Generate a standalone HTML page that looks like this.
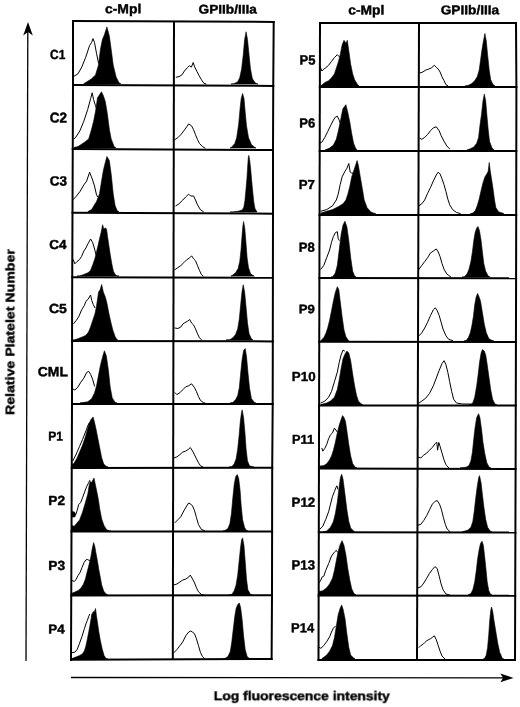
<!DOCTYPE html>
<html><head><meta charset="utf-8"><title>Figure</title><style>
html,body{margin:0;padding:0;background:#fff;width:520px;height:707px;overflow:hidden}
svg{display:block}
text{font-family:"Liberation Sans",sans-serif;font-weight:bold;font-size:14px;fill:#000;stroke:#000;stroke-width:0.45px;stroke-linejoin:round;text-rendering:geometricPrecision}
</style></head><body>
<svg width="520" height="707" viewBox="0 0 520 707">
<g stroke="#000" stroke-width="2.0" stroke-linecap="butt"><line x1="72.00" y1="21.00" x2="274.70" y2="21.90"/><line x1="72.00" y1="84.90" x2="274.25" y2="85.90"/><line x1="71.74" y1="149.00" x2="274.00" y2="150.00"/><line x1="71.49" y1="212.80" x2="274.00" y2="213.70"/><line x1="71.23" y1="277.20" x2="273.90" y2="277.70"/><line x1="71.07" y1="341.00" x2="273.80" y2="341.40"/><line x1="71.00" y1="404.00" x2="273.70" y2="404.10"/><line x1="70.75" y1="468.00" x2="273.20" y2="467.70"/><line x1="70.50" y1="531.50" x2="273.10" y2="531.60"/><line x1="70.25" y1="595.50" x2="273.00" y2="595.20"/><line x1="70.00" y1="659.70" x2="272.60" y2="659.00"/><polyline fill="none" points="73.00,20.00 73.00,85.00 72.10,310.00 72.00,404.00 71.00,661.00"/><polyline fill="none" points="174.00,21.50 172.80,659.30"/><polyline fill="none" points="273.70,20.90 273.25,85.00 273.00,150.00 273.00,213.00 272.90,277.00 272.80,341.00 272.70,404.00 272.20,468.00 272.10,532.00 272.00,595.00 271.60,660.00"/></g>
<g stroke="#000" stroke-width="2.0" stroke-linecap="butt"><line x1="319.00" y1="23.00" x2="517.00" y2="23.00"/><line x1="318.85" y1="87.00" x2="517.40" y2="86.90"/><line x1="318.70" y1="151.00" x2="517.30" y2="151.00"/><line x1="318.55" y1="215.00" x2="517.20" y2="215.00"/><line x1="318.40" y1="278.00" x2="517.10" y2="278.20"/><line x1="318.25" y1="341.70" x2="516.93" y2="341.90"/><line x1="318.10" y1="405.40" x2="516.77" y2="405.60"/><line x1="317.95" y1="468.40" x2="516.60" y2="469.10"/><line x1="317.80" y1="532.20" x2="516.40" y2="532.40"/><line x1="317.65" y1="595.50" x2="516.20" y2="595.70"/><line x1="317.50" y1="660.00" x2="516.00" y2="660.00"/><polyline fill="none" points="320.00,22.00 318.50,661.00"/><polyline fill="none" points="419.00,23.00 417.00,660.00"/><polyline fill="none" points="516.00,22.00 516.40,87.00 516.10,278.00 515.60,469.00 515.00,661.00"/></g>
<g fill="#000" stroke="#000" stroke-width="0.6" stroke-linejoin="round"><polygon points="83.8,84.0 83.8,83.7 91.6,78.8 95.5,74.9 98.5,65.0 100.4,49.4 102.4,39.6 104.4,34.7 106.9,26.9 109.3,35.7 111.2,49.4 113.2,65.0 116.1,76.9 119.0,82.7 121.0,84.0 121.0,84.0"/><polygon points="74.0,148.0 74.0,147.5 78.0,146.5 83.8,142.8 88.7,138.9 91.6,129.1 93.6,121.3 95.5,111.5 97.5,97.7 99.5,94.8 101.4,91.8 103.4,95.8 105.3,101.6 107.3,113.4 109.3,129.1 111.2,138.9 114.2,146.7 116.0,148.0 116.0,148.0"/><polygon points="88.0,212.0 88.0,211.5 91.6,209.5 96.5,201.6 99.5,193.8 101.4,182.0 103.4,170.3 105.3,162.4 106.9,156.5 109.3,160.5 111.2,174.2 113.2,193.8 115.1,205.6 117.1,210.5 119.0,212.0 119.0,212.0"/><polygon points="77.0,276.0 77.0,276.0 79.5,276.0 83.8,274.4 88.0,272.8 90.6,270.2 92.7,264.9 94.9,258.5 96.4,252.2 98.0,245.8 99.6,238.4 101.2,232.1 102.6,224.7 103.8,228.9 105.4,227.9 106.5,228.9 107.5,236.3 108.6,243.7 110.2,254.3 111.8,263.8 113.4,271.2 115.5,274.9 117.6,276.0 119.0,276.0 119.0,276.0"/><polygon points="73.0,340.0 73.0,340.0 74.2,340.0 78.5,338.4 82.7,336.8 85.9,335.2 88.5,332.1 90.6,326.8 92.7,320.4 94.9,314.1 96.4,306.7 97.5,299.3 98.6,291.9 100.1,289.8 101.7,284.5 103.3,291.9 105.4,297.2 107.0,303.5 108.6,312.0 110.7,321.5 112.8,330.0 115.0,336.3 117.1,340.0 118.0,340.0 118.0,340.0"/><polygon points="80.0,403.0 80.0,403.0 87.7,401.8 91.6,398.8 94.5,392.9 96.5,386.1 98.5,375.3 100.4,365.5 102.4,357.6 104.4,350.8 106.3,355.7 108.3,369.4 110.2,387.1 112.2,397.8 115.1,402.4 117.0,403.0 117.0,403.0"/><polygon points="72.0,467.0 72.0,464.5 73.8,463.6 76.7,458.8 79.6,452.1 82.5,445.3 85.4,436.7 87.8,428.0 89.2,423.2 90.7,419.9 93.1,417.0 94.5,422.3 96.0,429.0 97.9,438.6 99.8,448.2 101.7,457.8 103.7,464.1 106.5,466.5 108.0,467.0 108.0,467.0"/><polygon points="72.0,531.0 72.0,525.7 74.3,526.2 76.7,523.3 79.6,519.9 82.5,512.2 85.4,502.6 87.8,494.0 89.2,485.3 90.2,481.5 91.6,482.4 94.0,478.1 95.5,485.3 96.9,492.0 98.4,499.7 99.8,509.3 101.7,519.0 104.1,525.7 106.5,529.5 109.4,531.0 111.0,531.0 111.0,531.0"/><polygon points="72.0,511.5 74.5,512.0 75.8,514.5 74.8,517.0 72.0,517.0"/><polygon points="72.0,595.0 72.0,593.2 72.4,593.0 74.8,592.1 78.7,590.2 81.5,587.3 83.5,583.9 85.4,579.1 86.8,573.3 88.3,567.6 89.7,561.8 91.0,556.0 92.1,549.3 93.6,542.6 94.8,546.4 96.0,553.2 97.4,560.8 98.8,569.5 100.3,577.2 101.7,584.9 103.7,591.1 106.1,594.0 108.0,595.0 108.0,595.0"/><polygon points="72.0,659.0 72.0,658.5 75.8,657.1 79.6,655.6 82.5,653.7 84.4,650.8 85.9,646.0 87.3,639.3 88.8,631.6 90.2,623.9 91.2,618.1 91.6,614.8 93.1,611.9 94.5,611.4 95.5,608.5 96.4,615.2 97.4,622.0 98.8,631.6 100.3,640.2 102.2,648.9 104.1,655.6 106.5,659.0 108.0,659.0 108.0,659.0"/><polygon points="231.0,84.0 231.0,84.0 233.8,83.7 237.7,81.8 239.7,77.8 241.6,69.0 243.2,55.3 244.6,39.6 246.1,31.8 247.5,39.6 249.1,55.3 250.5,69.0 252.4,78.8 255.4,83.1 258.0,84.0 258.0,84.0"/><polygon points="230.0,148.0 230.0,148.0 231.8,147.1 234.8,143.5 236.7,137.6 238.7,123.9 240.1,108.2 241.2,98.4 242.6,93.5 244.0,98.4 245.2,112.2 246.5,125.9 248.5,137.6 251.4,144.5 254.4,147.1 256.0,148.0 256.0,148.0"/><polygon points="230.0,212.0 230.0,212.0 232.7,212.0 238.0,211.3 242.2,209.9 243.8,207.2 244.9,200.9 245.9,190.3 247.0,177.6 247.7,166.0 248.3,157.5 248.8,155.4 249.6,159.6 250.7,169.2 251.7,180.8 252.8,192.4 253.8,201.9 254.9,208.3 257.0,212.0 257.0,212.0"/><polygon points="231.0,276.0 231.0,276.0 232.8,275.1 235.7,272.5 238.1,268.6 239.7,261.7 241.0,250.0 242.0,236.2 242.8,226.4 243.6,221.5 244.8,228.4 245.9,242.1 247.1,257.8 248.5,267.6 250.5,273.5 252.4,275.1 254.0,276.0 254.0,276.0"/><polygon points="226.0,340.0 226.0,340.0 229.9,339.7 232.8,337.8 235.4,334.8 237.7,328.9 239.3,319.1 240.6,305.4 242.0,291.7 243.2,284.8 244.6,291.7 245.9,305.4 247.5,323.1 249.1,333.8 251.4,338.7 253.0,340.0 253.0,340.0"/><polygon points="230.0,403.0 230.0,403.0 232.8,402.5 235.7,399.5 237.7,395.6 239.3,387.8 240.6,374.0 242.0,360.3 243.6,350.5 245.2,348.5 246.5,356.4 247.9,372.1 249.5,387.8 251.4,398.5 254.4,402.5 256.0,403.0 256.0,403.0"/><polygon points="229.0,467.0 229.0,467.0 231.8,466.7 234.2,463.8 236.1,458.9 237.7,449.1 239.1,435.4 240.3,421.6 241.6,411.8 242.2,409.9 243.6,417.7 245.0,433.4 246.1,449.1 247.5,460.9 249.5,465.8 252.4,466.7 254.0,467.0 254.0,467.0"/><polygon points="223.0,531.0 223.0,531.0 225.0,530.5 227.9,528.5 229.9,523.6 231.4,513.8 232.8,498.1 234.2,484.4 235.7,476.5 237.3,474.6 238.7,478.5 240.1,490.3 241.2,506.0 242.6,519.7 244.6,527.5 246.5,530.5 248.0,531.0 248.0,531.0"/><polygon points="229.0,595.0 229.0,595.0 231.8,594.4 234.2,590.8 236.1,584.9 237.7,575.1 239.1,561.4 240.5,547.7 241.6,539.8 242.6,537.9 244.0,545.7 245.2,561.4 246.5,579.1 247.9,589.8 250.5,594.4 252.0,595.0 252.0,595.0"/><polygon points="223.0,659.0 223.0,659.0 225.0,658.5 227.9,656.5 230.3,651.6 231.8,641.8 233.4,628.1 234.8,616.3 236.1,608.5 237.7,604.5 239.3,603.0 240.6,607.5 242.0,618.3 243.6,635.9 245.2,649.6 247.1,656.5 249.5,658.5 251.0,659.0 251.0,659.0"/><polygon points="320.9,86.0 320.9,85.8 324.8,82.6 328.6,80.7 331.5,77.8 334.4,73.9 336.3,68.2 338.2,62.4 340.2,54.7 342.1,45.1 344.0,40.3 345.9,43.2 347.3,40.3 348.8,50.8 350.7,64.3 352.7,73.9 354.6,79.7 357.5,84.5 359.0,86.0 359.0,86.0"/><polygon points="325.0,150.0 325.0,150.0 329.6,148.0 333.4,145.1 336.3,139.3 338.2,131.6 340.2,122.0 341.7,114.3 343.0,108.5 345.9,104.7 347.8,112.4 349.8,122.0 351.7,133.5 353.6,143.2 355.5,148.0 357.0,150.0 357.0,150.0"/><polygon points="320.9,214.0 320.9,213.0 326.7,211.2 332.5,209.6 338.2,206.7 343.0,203.8 345.9,200.0 347.8,194.2 349.8,186.5 351.7,176.9 353.6,171.2 355.5,165.4 357.1,160.6 358.4,165.4 360.3,176.9 362.3,188.5 364.2,200.0 367.1,207.7 370.9,211.9 374.8,213.5 376.0,214.0 376.0,214.0"/><polygon points="331.0,277.0 331.0,277.0 332.5,276.9 335.3,273.1 337.3,265.4 339.2,250.0 341.1,234.6 343.0,225.0 345.0,221.2 346.9,226.9 348.8,240.4 350.7,257.7 352.7,271.2 354.6,276.0 356.0,277.0 356.0,277.0"/><polygon points="321.0,341.0 321.0,340.5 323.8,337.6 325.7,333.8 327.7,328.0 329.6,320.3 331.5,310.7 333.4,301.1 335.3,292.4 337.3,286.7 338.8,289.5 340.2,301.1 342.1,316.5 344.0,329.9 345.9,336.7 347.8,339.5 349.0,341.0 349.0,341.0"/><polygon points="321.0,405.0 321.0,404.5 326.7,403.0 330.5,401.1 334.4,397.2 337.3,389.5 339.2,379.9 341.1,368.4 343.0,358.8 345.0,354.0 346.9,351.1 348.8,353.0 350.7,360.7 352.7,374.2 354.6,385.7 356.5,395.3 358.4,401.1 361.3,404.0 363.0,405.0 363.0,405.0"/><polygon points="320.0,468.0 320.0,466.0 323.8,465.6 326.7,463.7 329.6,459.8 331.5,456.0 333.4,450.2 335.3,442.5 337.3,432.9 339.2,425.2 341.1,419.5 342.5,415.6 344.0,417.5 345.5,421.4 346.9,431.0 348.8,444.5 350.7,456.0 352.7,463.7 355.5,467.5 357.0,468.0 357.0,468.0"/><polygon points="323.0,532.0 323.0,532.0 326.7,531.0 330.5,527.2 333.4,521.4 335.3,513.7 337.3,502.2 339.2,486.8 340.5,477.2 341.7,474.3 343.0,479.1 345.0,494.5 346.9,509.8 348.8,521.4 350.7,528.1 353.6,531.0 355.0,532.0 355.0,532.0"/><polygon points="319.0,595.0 319.0,591.6 322.8,590.7 326.7,587.8 329.6,583.9 332.5,578.2 334.4,570.5 336.3,560.8 338.2,551.2 340.2,544.5 342.1,540.7 344.0,545.5 345.9,555.1 347.8,568.5 349.8,580.1 351.7,588.7 354.0,593.5 356.0,595.0 356.0,595.0"/><polygon points="322.0,659.0 322.0,658.5 326.7,655.1 329.6,651.2 332.5,645.5 334.4,637.8 336.3,626.2 338.2,614.7 340.2,608.0 341.7,605.1 343.0,608.9 345.0,618.5 346.9,633.9 348.8,647.4 350.7,655.1 353.6,658.0 355.0,659.0 355.0,659.0"/><polygon points="465.0,86.0 465.0,86.0 468.0,85.5 471.8,83.5 474.7,80.7 477.2,76.8 479.2,70.1 480.5,60.5 481.8,50.8 483.4,41.2 484.9,33.5 486.3,41.2 487.6,54.7 489.2,70.1 490.7,79.7 493.0,84.5 495.0,86.0 495.0,86.0"/><polygon points="467.0,150.0 467.0,150.0 469.9,148.9 473.8,147.0 476.7,143.2 478.6,137.4 479.9,125.8 481.5,114.3 483.0,100.8 484.3,94.1 485.7,100.8 486.8,114.3 488.2,129.7 489.5,141.2 492.0,148.0 494.0,150.0 494.0,150.0"/><polygon points="470.0,214.0 470.0,214.0 472.8,213.1 475.3,210.6 477.2,205.8 479.2,199.0 481.1,190.4 483.0,182.7 484.9,176.9 486.8,174.0 488.2,171.2 489.2,162.5 490.3,171.2 491.5,178.8 493.0,188.5 494.5,200.0 495.9,207.7 498.8,211.9 502.6,213.1 504.0,214.0 504.0,214.0"/><polygon points="462.0,277.0 462.0,277.0 464.2,276.9 467.0,274.0 469.0,269.2 470.9,261.5 472.4,251.9 473.8,240.4 475.1,232.7 476.7,227.9 478.0,226.5 479.5,230.8 481.1,240.4 482.4,251.9 483.8,263.5 485.7,271.2 488.2,276.0 490.0,277.0 490.0,277.0"/><polygon points="464.0,341.0 464.0,341.0 466.1,340.5 468.4,337.6 470.3,332.8 471.8,326.1 473.4,316.5 474.7,304.9 476.1,297.2 477.6,293.4 479.2,297.2 480.5,301.1 482.4,312.6 484.3,324.2 486.3,332.8 488.8,338.6 492.0,340.5 494.0,341.0 494.0,341.0"/><polygon points="469.0,405.0 469.0,405.0 472.8,403.0 474.7,397.2 476.7,385.7 478.2,374.2 479.5,362.6 481.1,353.0 482.4,349.5 484.3,351.1 485.7,354.9 487.2,364.5 488.8,376.1 490.7,389.5 492.6,399.2 494.9,404.0 497.0,405.0 497.0,405.0"/><polygon points="460.0,468.0 460.0,468.0 466.1,467.2 469.0,465.6 470.9,460.8 472.4,452.2 473.8,438.7 475.1,427.2 476.7,417.5 478.6,413.7 479.9,417.5 481.5,429.1 483.0,442.5 484.9,454.1 486.8,462.7 489.2,467.2 491.0,468.0 491.0,468.0"/><polygon points="462.0,532.0 462.0,532.0 468.0,530.0 470.9,527.2 472.8,521.4 474.2,511.8 475.7,498.3 477.2,486.8 478.6,478.1 479.5,475.6 481.1,482.9 482.4,494.5 484.0,507.9 485.7,519.5 487.6,527.2 490.1,531.0 492.0,532.0 492.0,532.0"/><polygon points="468.0,595.0 468.0,595.0 470.9,593.5 472.8,589.7 474.7,582.0 476.3,570.5 477.6,558.9 479.2,549.3 480.5,543.5 482.0,541.2 483.4,545.5 484.7,557.0 486.1,570.5 487.2,582.0 488.8,590.7 490.7,594.5 492.0,595.0 492.0,595.0"/><polygon points="483.0,659.0 483.0,659.0 484.3,659.0 486.3,655.1 487.6,647.4 488.8,633.9 489.7,620.5 490.7,610.8 491.5,607.0 492.6,610.8 494.0,620.5 495.9,632.0 497.8,643.5 499.7,652.2 502.6,658.9 504.0,659.0 504.0,659.0"/></g>
<g fill="none" stroke="#000" stroke-width="1.0" stroke-linejoin="round" stroke-linecap="round"><polyline points="73.0,76.9 77.9,73.9 81.8,67.0 85.7,57.3 89.6,45.5 91.6,42.5 93.0,38.6 94.5,42.5 96.5,53.3 98.5,63.1"/><polyline points="74.0,138.9 75.9,137.0 79.8,131.0 83.8,121.3 87.7,109.5 90.6,98.7 92.2,92.8 93.6,99.7 95.5,105.6 96.5,108.5"/><polyline points="73.0,199.7 75.9,196.7 79.8,191.8 83.8,185.0 86.7,181.0 89.6,172.2 91.2,176.2 92.6,180.0 94.5,186.0 96.5,194.8 97.5,196.7"/><polyline points="73.2,259.6 74.8,263.8 76.9,261.7 79.5,259.6 81.6,256.4 83.8,251.1 85.9,248.0 88.0,243.7 90.6,239.0 92.7,242.7 94.3,248.0 95.9,254.3"/><polyline points="73.7,323.6 76.3,320.4 79.0,316.2 81.6,309.8 84.3,305.6 85.9,301.4 88.0,299.3 90.6,295.0 91.7,300.3 93.3,304.6 94.9,307.7"/><polyline points="73.0,389.0 74.9,390.0 77.9,387.1 80.8,382.2 83.8,378.2 86.7,372.4 88.7,371.4 90.6,374.3 92.6,379.2 94.5,386.1"/><polyline points="72.9,460.7 75.8,455.0 79.6,446.3 82.5,439.6 85.9,430.9 87.8,425.6 89.2,423.0"/><polyline points="72.0,512.0 74.5,515.5 76.0,514.0 77.2,510.3 78.7,504.5 80.6,502.6 82.5,497.8 84.9,491.1 86.8,486.3 88.8,482.4 89.7,480.5"/><polyline points="72.4,580.6 74.3,581.5 76.2,579.1 78.2,575.3 80.1,572.4 82.0,567.6 83.9,562.8 85.9,559.9 87.3,559.4 89.2,560.4 90.2,561.3"/><polyline points="71.9,652.7 74.8,652.2 77.2,649.4 79.6,643.1 82.0,636.4 84.4,628.7 85.9,623.9 87.3,620.5 88.8,616.2 89.7,614.3"/><polyline points="176.2,77.2 179.0,76.6 181.9,74.9 184.5,70.9 187.4,67.7 189.4,65.7 191.4,67.1 193.2,62.5 194.6,66.8 196.9,71.4 199.2,75.8 201.5,79.8 203.9,83.3 206.0,84.0"/><polyline points="175.0,139.6 177.9,137.6 180.8,134.7 183.8,130.8 186.7,126.9 188.7,123.9 191.6,125.9 193.6,129.8 195.5,134.7 197.5,139.6 199.5,143.5 202.4,146.5 205.0,148.0"/><polyline points="175.9,205.8 178.9,203.9 182.8,200.0 185.7,197.0 188.7,194.1 190.6,196.0 193.6,196.0 195.5,200.0 197.5,204.9 200.5,209.8 203.4,211.7"/><polyline points="175.0,269.6 177.9,267.6 180.8,265.6 183.8,262.7 186.7,259.8 189.7,257.8 191.6,255.8 193.6,258.8 195.5,260.7 197.5,265.6 199.5,270.5 201.4,274.5 203.0,276.0"/><polyline points="175.0,328.0 177.9,328.5 180.8,327.0 182.8,324.0 184.8,322.7 187.7,321.1 189.7,319.5 191.6,323.1 193.6,325.0 195.5,328.9 197.5,333.8 199.5,337.8 201.4,339.7"/><polyline points="175.0,392.7 176.9,394.6 179.9,392.7 182.8,389.7 185.7,386.8 188.7,385.8 191.6,383.8 194.6,387.8 196.5,391.7 198.5,396.6 200.5,400.5 203.4,402.5 205.0,403.0"/><polyline points="174.0,457.9 176.9,456.9 179.9,454.6 182.8,452.0 185.7,451.1 188.7,449.1 190.3,447.5 192.6,451.1 194.6,455.0 196.5,458.9 198.5,462.8 200.5,465.8 203.0,467.0"/><polyline points="175.0,522.6 177.9,519.7 180.8,516.7 183.8,510.9 186.7,506.0 188.7,503.0 190.6,504.0 192.6,506.0 194.6,510.9 196.5,517.7 198.5,524.6 201.4,529.5 204.4,530.5"/><polyline points="174.0,584.9 176.9,584.0 179.9,582.0 182.8,580.0 185.7,579.1 188.7,577.1 190.3,575.1 192.6,579.1 194.6,583.0 196.5,587.9 198.5,591.8 201.4,594.4 204.0,595.0"/><polyline points="174.0,652.6 176.9,649.6 179.9,645.7 182.8,641.8 185.7,635.9 188.7,632.0 190.6,631.0 192.6,632.0 194.6,634.0 196.5,638.9 198.5,645.7 200.5,652.6 202.4,656.5 204.4,658.5"/><polyline points="320.0,66.2 321.9,71.0 323.8,69.1 325.7,67.8 328.6,65.3 331.5,61.4 334.4,57.6 337.3,54.7 339.2,56.6"/><polyline points="320.0,143.2 321.9,142.2 324.8,137.4 327.7,131.6 330.5,125.8 333.4,120.1 335.3,117.2 337.3,116.2 339.2,120.1 340.2,123.0"/><polyline points="320.9,211.2 326.7,209.6 332.5,205.8 336.3,200.0 338.2,194.2 340.2,184.6 342.1,176.9 345.0,171.2 346.9,168.3 348.8,163.5 350.2,172.1 351.7,173.1 353.2,173.1"/><polyline points="320.9,269.2 323.8,265.4 326.7,257.7 329.6,250.0 331.5,242.3 333.4,236.5 335.3,232.7 337.3,231.7 338.2,238.5 339.2,240.4"/><polyline points="320.9,403.0 324.8,401.1 328.6,397.2 331.5,391.5 334.4,381.8 337.3,372.2 339.2,362.6 341.1,354.9 343.0,350.1 344.5,351.0"/><polyline points="321.9,448.3 322.8,451.2 324.8,448.3 326.7,444.5 328.6,438.7 330.5,434.8 332.5,432.9 334.4,428.1 335.9,430.0 337.3,432.0"/><polyline points="320.0,529.1 322.8,526.2 325.7,519.5 328.6,511.8 330.5,504.1 332.5,496.4 334.4,491.6 335.9,487.7 336.9,485.8 337.8,489.0"/><polyline points="319.0,583.0 320.9,580.1 321.9,577.2 323.8,576.2 325.7,570.5 328.6,563.7 331.5,556.0 334.4,552.2 336.3,550.3 337.3,552.0"/><polyline points="319.0,647.4 320.9,648.3 323.8,645.5 326.7,641.6 329.6,636.8 331.5,632.0 333.4,628.2 335.3,626.2"/><polyline points="419.9,73.0 422.8,72.0 425.7,70.1 428.6,69.1 431.5,67.8 434.3,65.3 436.3,67.2 438.2,69.1 440.1,72.0 442.0,76.8 444.0,80.7 445.9,84.5 447.8,85.8"/><polyline points="419.9,138.3 421.8,139.3 424.7,137.4 427.6,134.5 430.5,130.7 433.4,127.8 436.3,126.8 439.2,130.7 441.1,135.5 444.0,141.2 446.8,146.0 449.7,148.9"/><polyline points="419.0,205.8 421.8,203.8 424.7,200.0 427.6,193.3 430.5,187.5 433.4,180.8 436.3,175.0 438.2,172.1 440.1,174.0 442.0,178.8 444.0,184.6 445.9,191.3 447.8,199.0 449.7,204.8 452.6,209.6 456.5,212.5 460.3,213.5"/><polyline points="419.0,269.2 421.8,265.4 424.7,261.5 427.6,257.7 430.5,252.9 433.4,251.0 436.3,249.0 438.2,251.9 440.1,256.7 442.0,263.5 444.0,269.2 446.8,274.0 450.7,276.9"/><polyline points="419.0,335.7 421.8,332.8 424.7,328.0 427.6,322.2 430.5,315.5 433.4,309.7 435.3,307.8 437.2,310.7 439.2,315.5 441.1,322.2 443.0,329.0 445.9,335.7 448.8,339.5 452.6,340.5"/><polyline points="419.0,403.0 421.8,401.1 425.7,398.2 429.5,393.4 433.4,385.7 436.3,378.0 439.2,370.3 442.0,363.6 444.0,360.7 445.9,364.5 447.8,372.2 449.7,381.8 451.7,391.5 453.6,399.2 456.5,403.0 462.2,404.0 470.0,404.0"/><polyline points="418.0,457.0 420.9,457.9 423.8,455.0 426.7,453.1 429.5,450.2 432.4,447.3 435.3,443.5 436.8,442.2 437.6,450.2 438.8,442.5 440.1,446.4 442.0,453.1 444.0,459.8 445.9,464.7 448.8,467.9"/><polyline points="418.0,525.2 420.9,524.3 423.8,520.4 426.7,515.6 429.5,509.8 432.4,504.1 435.3,501.2 437.2,500.6 439.5,504.1 441.5,509.8 443.4,517.5 445.3,524.3 447.2,529.1 449.7,531.4"/><polyline points="418.0,587.8 420.9,586.8 423.8,583.0 426.7,578.2 429.5,573.3 432.4,569.5 434.9,566.6 437.2,568.5 439.2,576.2 441.1,583.9 443.0,589.7 445.9,593.9 449.7,595.1"/><polyline points="419.0,647.4 420.9,645.5 422.8,644.5 424.7,642.6 426.7,640.7 428.6,639.7 430.5,638.7 432.4,637.4 434.3,635.8 436.3,639.7 438.2,645.5 440.1,651.2 442.0,656.0 444.9,658.9"/></g>
<line x1="27.8" y1="30" x2="26" y2="661" stroke="#000" stroke-width="1.3"/>
<polygon points="28,22 32.8,35.5 28,32 23.2,35.5" fill="#000"/>
<line x1="71" y1="677.5" x2="505" y2="677.8" stroke="#000" stroke-width="1.3"/>
<polygon points="513.5,677.9 500.4,682.3 503,678 500.4,673.5" fill="#000"/>
<g style="filter:grayscale(1)"><text transform="translate(50.060,58.988) rotate(0.05) scale(0.8521,0.9452)">C1</text><text transform="translate(49.631,122.417) rotate(0.05) scale(0.9649,1.0152)">C2</text><text transform="translate(49.679,185.601) rotate(0.05) scale(0.9615,0.9595)">C3</text><text transform="translate(49.221,249.072) rotate(0.05) scale(0.9639,0.9338)">C4</text><text transform="translate(48.958,312.945) rotate(0.05) scale(1.0050,0.9393)">C5</text><text transform="translate(37.701,376.193) rotate(0.05) scale(0.9955,0.9547)">CML</text><text transform="translate(48.276,440.614) rotate(0.05) scale(0.8612,0.9229)">P1</text><text transform="translate(48.360,505.078) rotate(0.05) scale(0.9785,0.9386)">P2</text><text transform="translate(48.358,569.963) rotate(0.05) scale(0.9835,0.9394)">P3</text><text transform="translate(48.178,633.488) rotate(0.05) scale(0.9594,0.9262)">P4</text><text transform="translate(299.484,64.604) rotate(0.05) scale(0.9267,0.9497)">P5</text><text transform="translate(299.236,127.482) rotate(0.05) scale(0.9346,0.9417)">P6</text><text transform="translate(298.728,189.092) rotate(0.05) scale(0.9443,0.9265)">P7</text><text transform="translate(298.712,251.639) rotate(0.05) scale(0.9344,0.9413)">P8</text><text transform="translate(298.677,313.311) rotate(0.05) scale(0.9373,0.8835)">P9</text><text transform="translate(291.851,381.035) rotate(0.05) scale(0.9534,0.9331)">P10</text><text transform="translate(291.893,443.713) rotate(0.05) scale(0.9163,0.9178)">P11</text><text transform="translate(291.572,506.847) rotate(0.05) scale(0.9496,0.9419)">P12</text><text transform="translate(291.599,569.531) rotate(0.05) scale(0.9376,0.9498)">P13</text><text transform="translate(291.120,632.197) rotate(0.05) scale(0.9258,0.9460)">P14</text><text transform="translate(104.883,13.150) rotate(0.05) scale(0.9956,0.9355)">c-Mpl</text><text transform="translate(348.239,14.510) rotate(0.05) scale(0.9887,0.9479)">c-Mpl</text><text transform="translate(198.543,13.492) rotate(0.05) scale(0.9743,0.8965)">GPIIb/IIIa</text><text transform="translate(440.625,14.155) rotate(0.05) scale(0.9780,0.9049)">GPIIb/IIIa</text><text transform="translate(213.787,699.924) rotate(0.05) scale(0.9925,0.9108)">Log fluorescence intensity</text><text transform="translate(14.623,414.904) rotate(-89.95) scale(1.0097,0.8818)">Relative Platelet Number</text></g>
</svg>
</body></html>
